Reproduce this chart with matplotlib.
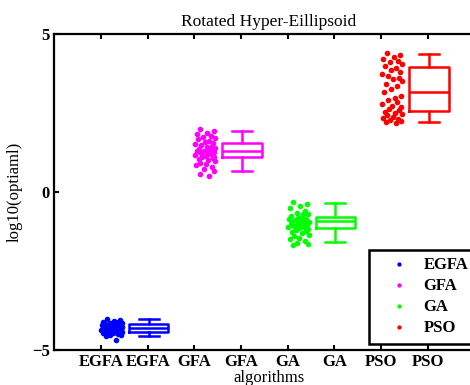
import numpy as np
import matplotlib
matplotlib.use("Agg")
import matplotlib.pyplot as plt

plt.rcParams['font.family'] = ['Liberation Serif', 'DejaVu Serif']
plt.rcParams['font.weight'] = 'bold'
plt.rcParams['font.size'] = 12

# algorithm names and colours
algos = ['EGFA', 'GFA', 'GA', 'PSO']
colors = ['#0000ff', '#ff00ff', '#00ff00', '#ff0000']
tick_labels = ['EGFA', 'EGFA', 'GFA', 'GFA', 'GA', 'GA', 'PSO', 'PSO']

# raw run results, log10 scale
egfa_vals = [-4.02, -4.05, -4.08, -4.10, -4.12, -4.13, -4.15, -4.17, -4.18, -4.20,
             -4.21, -4.22, -4.24, -4.25, -4.26, -4.27, -4.28, -4.29, -4.30, -4.31,
             -4.32, -4.33, -4.34, -4.35, -4.36, -4.37, -4.38, -4.39, -4.40, -4.41,
             -4.42, -4.43, -4.44, -4.45, -4.47, -4.49, -4.51, -4.54, -4.57, -4.68]
gfa_vals = [2.00, 1.92, 1.86, 1.82, 1.78, 1.74, 1.70, 1.66, 1.62, 1.58,
            1.55, 1.52, 1.49, 1.46, 1.43, 1.40, 1.37, 1.34, 1.31, 1.29,
            1.27, 1.25, 1.22, 1.20, 1.17, 1.15, 1.12, 1.10, 1.07, 1.04,
            1.01, 0.97, 0.93, 0.89, 0.84, 0.78, 0.72, 0.66, 0.58, 0.50]
ga_vals = [-0.31, -0.38, -0.45, -0.52, -0.60, -0.66, -0.71, -0.75, -0.78, -0.81,
           -0.84, -0.86, -0.88, -0.90, -0.92, -0.94, -0.96, -0.98, -1.00, -1.02,
           -1.04, -1.06, -1.08, -1.10, -1.12, -1.14, -1.17, -1.20, -1.23, -1.27,
           -1.31, -1.35, -1.40, -1.45, -1.50, -1.55, -1.60, -1.64, -1.68, -0.70]
pso_vals = [4.40, 4.33, 4.27, 4.21, 4.15, 4.10, 4.05, 3.98, 3.92, 3.86,
            3.80, 3.74, 3.68, 3.62, 3.56, 3.50, 3.42, 3.35, 3.25, 3.15,
            3.05, 2.97, 2.90, 2.84, 2.78, 2.73, 2.68, 2.63, 2.58, 2.54,
            2.50, 2.46, 2.42, 2.38, 2.34, 2.30, 2.27, 2.24, 2.21, 2.18]

# horizontal spread of the scatter points
jitter = [0.12, 0.41, 0.27, 0.05, 0.36, 0.19, 0.44, 0.08, 0.31, 0.22,
          0.40, 0.02, 0.15, 0.38, 0.26, 0.45, 0.10, 0.33, 0.21, 0.06,
          0.42, 0.29, 0.14, 0.35, 0.01, 0.24, 0.43, 0.17, 0.39, 0.09,
          0.30, 0.45, 0.13, 0.25, 0.04, 0.37, 0.20, 0.43, 0.11, 0.32]

# box statistics
whislo = [-4.56, 0.66, -1.59, 2.22]
q1 = [-4.44, 1.12, -1.13, 2.57]
med = [-4.31, 1.31, -0.91, 3.15]
q3 = [-4.17, 1.54, -0.78, 3.95]
whishi = [-4.02, 1.94, -0.34, 4.36]

all_vals = [egfa_vals, gfa_vals, ga_vals, pso_vals]

fig = plt.figure(figsize=(4.7, 3.85), dpi=100)
# axes runs past the right edge of the figure, as in the original
ax = fig.add_axes([0.1155, 0.0909, 0.914, 0.821])

for i, name in enumerate(algos):
    xs = np.array(jitter) + (2 * i + 1)
    ax.plot(xs, all_vals[i], '.', color=colors[i], markersize=6, label=name)
    stats = [dict(whislo=whislo[i], q1=q1[i], med=med[i], q3=q3[i],
                  whishi=whishi[i], fliers=[])]
    lp = dict(color=colors[i], linewidth=1.8)
    ax.bxp(stats, positions=[2 * i + 2.02], widths=0.85, capwidths=0.43,
           boxprops=lp, whiskerprops=lp, capprops=lp, medianprops=lp,
           showfliers=False, manage_ticks=False)

ax.set_xlim(0, 9.2)
ax.set_ylim(-5, 5)
ax.set_xticks(range(1, 9))
ax.set_xticklabels(tick_labels)
ax.set_yticks([-5, 0, 5])
ax.tick_params(direction='in', top=True, right=True, length=3.6, width=1.5, pad=3)
for s in ax.spines.values():
    s.set_linewidth(1.6)

ax.set_title('Rotated Hyper-Eillipsoid', fontsize=12.5, pad=6)
ax.set_xlabel('algorithms', labelpad=0)
ax.set_ylabel('log10(optiaml)', labelpad=7)

leg = ax.legend(loc='lower left', bbox_to_anchor=(0.732, 0.019), frameon=True,
                fancybox=False, edgecolor='black', framealpha=1,
                handlelength=2.7, handletextpad=0.15, labelspacing=0.3,
                borderpad=0.45, markerscale=0.7, borderaxespad=0)
leg.get_frame().set_linewidth(1.8)

plt.savefig('out.png', dpi=100)
